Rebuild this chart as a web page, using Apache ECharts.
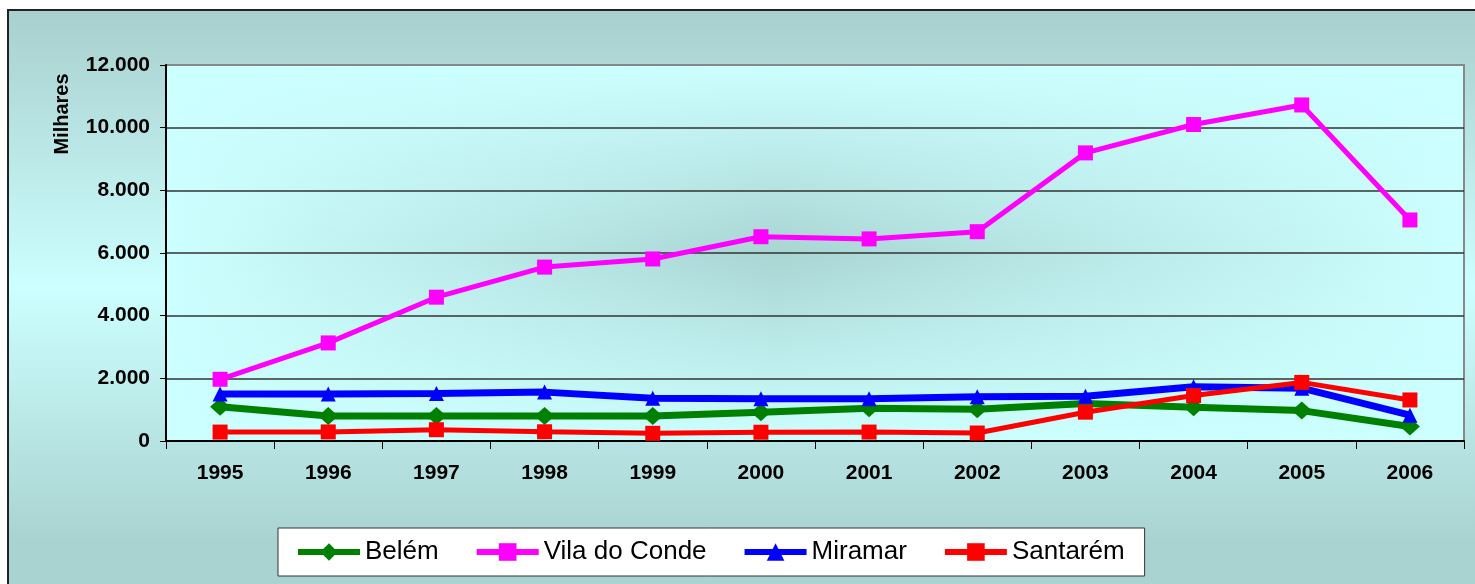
<!DOCTYPE html>
<html>
<head>
<meta charset="utf-8">
<script src="https://cdn.jsdelivr.net/npm/echarts@6/dist/echarts.min.js"></script>
<style>
html,body{margin:0;padding:0;background:#fff;}
#chart{width:1475px;height:584px;}
</style>
</head>
<body>
<div id="chart"></div>
<script>
const years = ['1995','1996','1997','1998','1999','2000','2001','2002','2003','2004','2005','2006'];
const belem = [1090, 800, 800, 800, 800, 920, 1045, 1010, 1200, 1075, 970, 465];
const vilaDoConde = [1970, 3130, 4590, 5550, 5810, 6520, 6450, 6680, 9195, 10100, 10725, 7055];
const miramar = [1500, 1500, 1515, 1560, 1365, 1345, 1350, 1410, 1430, 1730, 1685, 825];
const santarem = [285, 290, 360, 295, 245, 280, 285, 255, 920, 1450, 1870, 1310];
const yTicks = { min: 0, max: 12000, interval: 2000 };
const yName = 'Milhares';

const FONT = '"Liberation Sans", Arial, sans-serif';
const chart = echarts.init(document.getElementById('chart'));

function fmt(v) {
  return String(v).replace(/\B(?=(\d{3})+(?!\d))/g, '.');
}

const G = { left: 166, top: 65, right: 11, bottom: 143 };
const plotW = 1475 - G.left - G.right;
const plotH = 584 - G.top - G.bottom;

chart.setOption({
  backgroundColor: '#ffffff',
  animation: false,
  graphic: [
    {
      type: 'rect', z: -100, silent: true,
      shape: { x: 8, y: 10, width: 1480, height: 590 },
      style: {
        fill: new echarts.graphic.LinearGradient(0, 0, 0, 1, [
          { offset: 0, color: '#a8cfcd' },
          { offset: 0.47, color: '#ccffff' },
          { offset: 0.9, color: '#a9d3d1' },
          { offset: 1, color: '#a9d3d1' }
        ]),
        stroke: '#222', lineWidth: 2
      }
    },
    {
      type: 'rect', z: -99, silent: true,
      shape: { x: G.left, y: G.top, width: plotW, height: plotH },
      style: {
        fill: new echarts.graphic.LinearGradient(0, 0, 1, 0, [
          { offset: 0, color: '#ccffff' },
          { offset: 0.47, color: '#a9d5d3' },
          { offset: 1, color: '#ccffff' }
        ])
      }
    },
    {
      type: 'rect', z: -98, silent: true,
      shape: { x: G.left, y: G.top, width: plotW, height: plotH },
      style: {
        fill: new echarts.graphic.LinearGradient(0, 0, 0, 1, [
          { offset: 0, color: 'rgba(204,255,255,1)' },
          { offset: 0.5, color: 'rgba(204,255,255,0)' },
          { offset: 1, color: 'rgba(204,255,255,1)' }
        ]),
        stroke: '#888', lineWidth: 2
      }
    },
    {
      type: 'text', z: 10,
      x: 62, y: 114, rotation: Math.PI / 2,
      style: {
        text: yName, fill: '#000', font: 'bold 20px ' + FONT,
        align: 'center', verticalAlign: 'middle'
      }
    }
  ],
  grid: { left: G.left, right: G.right, top: G.top, bottom: G.bottom, show: false },
  legend: {
    left: 278, top: 528,
    padding: [11, 20, 11, 17],
    itemGap: 35,
    itemWidth: 62, itemHeight: 22,
    backgroundColor: '#ffffff',
    borderColor: '#333', borderWidth: 1,
    lineStyle: { width: 6 },
    textStyle: { fontSize: 26, color: '#000', fontFamily: FONT },
    data: ['Belém', 'Vila do Conde', 'Miramar', 'Santarém']
  },
  xAxis: {
    type: 'category', data: years, boundaryGap: true,
    axisLine: { lineStyle: { color: '#000', width: 2 } },
    axisTick: { show: true, length: 8, lineStyle: { color: '#000', width: 1 } },
    axisLabel: { color: '#000', fontWeight: 'bold', fontSize: 21, fontFamily: FONT, margin: 22 }
  },
  yAxis: {
    type: 'value', min: yTicks.min, max: yTicks.max, interval: yTicks.interval,
    axisLine: { show: true, lineStyle: { color: '#000', width: 2 } },
    axisTick: { show: true, length: 6, lineStyle: { color: '#000' } },
    axisLabel: { color: '#000', fontWeight: 'bold', fontSize: 21, fontFamily: FONT, margin: 16, formatter: fmt },
    splitLine: { show: true, lineStyle: { color: ['#333','#333','#333','#333','#333','#333','#888'], width: 1.5 } }
  },
  series: [
    {
      name: 'Belém', type: 'line', data: belem,
      symbol: 'diamond', symbolSize: [20, 18],
      lineStyle: { color: '#008000', width: 7 },
      itemStyle: { color: '#008000' }
    },
    {
      name: 'Vila do Conde', type: 'line', data: vilaDoConde,
      symbol: 'rect', symbolSize: 15,
      lineStyle: { color: '#ff00ff', width: 5 },
      itemStyle: { color: '#ff00ff' }
    },
    {
      name: 'Miramar', type: 'line', data: miramar,
      symbol: 'triangle', symbolSize: 15,
      lineStyle: { color: '#0000ff', width: 7 },
      itemStyle: { color: '#0000ff' }
    },
    {
      name: 'Santarém', type: 'line', data: santarem,
      symbol: 'rect', symbolSize: 15,
      lineStyle: { color: '#ff0000', width: 5 },
      itemStyle: { color: '#ff0000' }
    }
  ]
});
</script>
</body>
</html>
